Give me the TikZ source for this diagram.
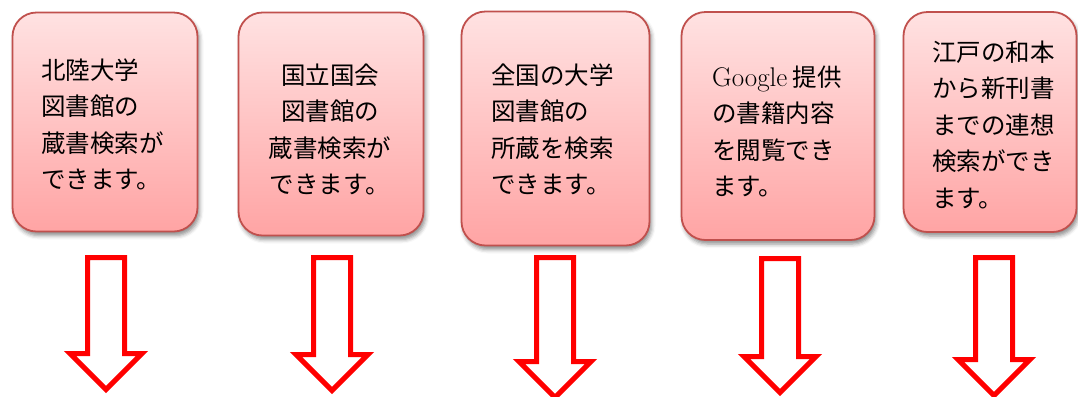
\documentclass[tikz,border=0pt]{standalone}
\usepackage{fontspec}
\usetikzlibrary{shapes.arrows,shadows.blur}
\newfontfamily\jpfont{Noto Sans CJK JP}
\definecolor{boxedge}{RGB}{192,80,77}
\definecolor{boxtop}{RGB}{255,226,226}
\definecolor{boxbot}{RGB}{255,164,164}

\begin{document}
\begin{tikzpicture}[x=1bp,y=-1bp,
    card/.style={draw=boxedge,line width=1.8bp,rounded corners=24bp,top color=boxtop,bottom color=boxbot,
        blur shadow={shadow xshift=2bp,shadow yshift=-4bp,shadow blur radius=4bp,shadow opacity=45},inner sep=0pt},
    words/.style={inner sep=0pt,align=left,anchor=north west,font=\jpfont\fontsize{24.5bp}{36.5bp}\selectfont},
    downarrow/.style={single arrow,draw=red,fill=white,line width=5bp,rotate=-90,anchor=tail,
        inner xsep=0pt,inner ysep=16bp,single arrow head extend=17.5bp,single arrow head indent=0pt}]
\useasboundingbox (0,0) rectangle (1078,396);
% boxes
\node[card,minimum width=185bp,minimum height=219bp] (box1) at (105,122) {};
\node[card,minimum width=185bp,minimum height=223bp] (box2) at (331,124) {};
\node[card,minimum width=188bp,minimum height=234bp] (box3) at (555.5,128.5) {};
\node[card,minimum width=193bp,minimum height=228bp] (box4) at (778,126) {};
\node[card,minimum width=173bp,minimum height=220bp] (box5) at (990,122) {};
% texts
\node[words] (txt1) at (41,58.5) {北陸大学\\図書館の\\蔵書検索が\\できます。};
\node[words,align=center,anchor=north] (txt2) at (330,63.5) {国立国会\\図書館の\\蔵書検索が\\できます。};
\node[words] (txt3) at (491,63.5) {全国の大学\\図書館の\\所蔵を検索\\できます。};
\node[words] (txt4) at (712,65.5) {{\rmfamily\fontsize{27bp}{36.5bp}\selectfont Google} 提供\\の書籍内容\\を閲覧でき\\ます。};
\node[words] (txt5) at (932,40.5) {江戸の和本\\から新刊書\\までの連想\\検索ができ\\ます。};
% arrows
\node[downarrow,minimum height=132bp] (arr1) at (106,255) {};
\node[downarrow,minimum height=133bp] (arr2) at (332,255) {};
\node[downarrow,minimum height=140bp] (arr3) at (555,255) {};
\node[downarrow,minimum height=134bp] (arr4) at (780,256) {};
\node[downarrow,minimum height=138bp] (arr5) at (994,255) {};
\end{tikzpicture}
\end{document}
